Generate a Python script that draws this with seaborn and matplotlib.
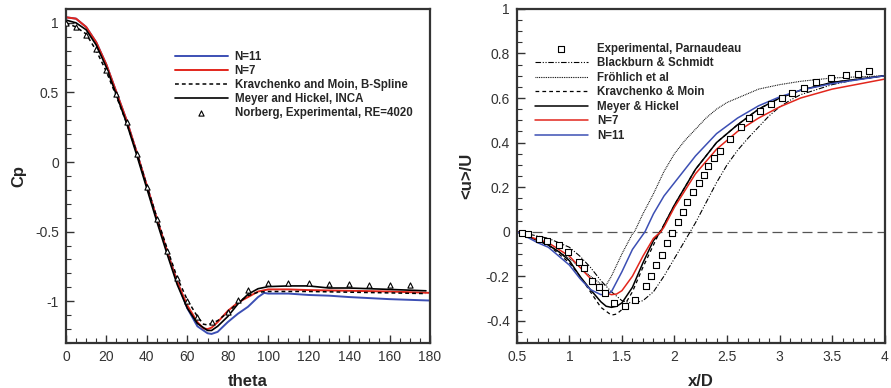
import matplotlib
matplotlib.use("Agg")
import matplotlib.pyplot as plt
import seaborn as sns
from matplotlib.ticker import MultipleLocator

# ---- left panel: Cp vs theta ----
theta_n7 = [0, 5, 10, 15, 20, 25, 30, 35, 40, 45, 50, 55, 60, 65, 68, 70, 72, 75, 80, 85, 90, 95, 100, 110, 120, 140, 160, 180]
cp_n7 = [1.04, 1.03, 0.97, 0.86, 0.70, 0.50, 0.30, 0.07, -0.17, -0.41, -0.64, -0.86, -1.03, -1.15, -1.195, -1.20, -1.19, -1.15,
         -1.07, -1.01, -0.97, -0.93, -0.915, -0.915, -0.92, -0.925, -0.93, -0.94]

theta_n11 = [0, 5, 10, 15, 20, 25, 30, 35, 40, 45, 50, 55, 60, 65, 70, 72, 75, 80, 85, 90, 95, 98, 100, 110, 120, 130, 135, 140, 160, 180]
cp_n11 = [1.04, 1.03, 0.97, 0.86, 0.70, 0.50, 0.30, 0.07, -0.17, -0.41, -0.64, -0.86, -1.05, -1.18, -1.23, -1.235, -1.22, -1.15,
          -1.09, -1.04, -0.97, -0.94, -0.945, -0.945, -0.955, -0.96, -0.965, -0.97, -0.985, -0.995]

theta_kr = [0, 5, 10, 15, 20, 25, 30, 35, 40, 45, 50, 55, 60, 65, 68, 70, 75, 80, 85, 90, 95, 100, 120, 140, 160, 178]
cp_kr = [1.0, 0.97, 0.92, 0.80, 0.65, 0.47, 0.28, 0.07, -0.17, -0.40, -0.62, -0.83, -0.99, -1.11, -1.165, -1.17, -1.14,
         -1.08, -1.01, -0.96, -0.935, -0.93, -0.93, -0.935, -0.94, -0.945]

theta_mh = [0, 5, 10, 15, 20, 25, 30, 35, 40, 45, 50, 55, 60, 65, 70, 72, 75, 80, 85, 90, 95, 100, 110, 120, 130, 140, 160, 178]
cp_mh = [1.02, 1.0, 0.95, 0.84, 0.68, 0.48, 0.28, 0.05, -0.19, -0.43, -0.66, -0.88, -1.05, -1.16, -1.21, -1.21, -1.18,
         -1.11, -1.02, -0.95, -0.91, -0.895, -0.89, -0.89, -0.905, -0.905, -0.915, -0.925]

theta_exp = [0, 5, 10, 15, 20, 25, 30, 35, 40, 45, 50, 55, 60, 65, 72, 80, 85, 90, 100, 110, 120, 130, 140, 150, 160, 170]
cp_exp = [1.0, 0.97, 0.91, 0.815, 0.66, 0.487, 0.288, 0.06, -0.18, -0.41, -0.64, -0.83, -1.0, -1.115, -1.15, -1.08, -0.99,
          -0.92, -0.868, -0.868, -0.868, -0.875, -0.875, -0.88, -0.88, -0.88]

# ---- right panel: <u>/U vs x/D ----
x_exp = [0.55, 0.61, 0.71, 0.79, 0.90, 0.99, 1.09, 1.14, 1.22, 1.28, 1.34, 1.42, 1.53, 1.62, 1.73, 1.78, 1.82, 1.88, 1.93,
         1.98, 2.03, 2.08, 2.12, 2.18, 2.23, 2.28, 2.32, 2.38, 2.43, 2.53, 2.63, 2.71, 2.81, 2.92, 3.02, 3.12, 3.23, 3.35,
         3.49, 3.63, 3.75, 3.85]
u_exp = [-0.005, -0.012, -0.032, -0.042, -0.062, -0.09, -0.135, -0.165, -0.222, -0.25, -0.275, -0.32, -0.335, -0.305,
         -0.245, -0.2, -0.15, -0.105, -0.05, -0.005, 0.044, 0.09, 0.134, 0.179, 0.218, 0.256, 0.293, 0.33, 0.364, 0.417,
         0.468, 0.511, 0.54, 0.571, 0.6, 0.623, 0.645, 0.672, 0.69, 0.705, 0.708, 0.72]

x_bs = [0.5, 0.6, 0.7, 0.8, 0.9, 1.0, 1.1, 1.2, 1.3, 1.4, 1.5, 1.6, 1.7, 1.8, 1.9, 2.0, 2.1, 2.15, 2.2, 2.3, 2.4, 2.5,
        2.6, 2.7, 2.8, 2.9, 3.0, 3.1, 3.2, 3.3, 3.5, 3.7, 4.0]
u_bs = [0.0, -0.01, -0.02, -0.03, -0.05, -0.07, -0.11, -0.16, -0.22, -0.27, -0.31, -0.322, -0.31, -0.27, -0.2, -0.12,
        -0.04, 0.0, 0.04, 0.13, 0.22, 0.30, 0.365, 0.42, 0.47, 0.52, 0.56, 0.59, 0.615, 0.63, 0.66, 0.68, 0.70]

x_fr = [0.5, 0.6, 0.7, 0.8, 0.9, 1.0, 1.1, 1.2, 1.3, 1.35, 1.4, 1.5, 1.6, 1.62, 1.7, 1.8, 1.9, 2.0, 2.1, 2.2, 2.3, 2.4,
        2.5, 2.6, 2.8, 3.0, 3.2, 3.5, 4.0]
u_fr = [0.0, -0.02, -0.04, -0.06, -0.09, -0.12, -0.16, -0.2, -0.235, -0.24, -0.2, -0.1, -0.01, 0.0, 0.08, 0.17, 0.27,
        0.35, 0.41, 0.46, 0.51, 0.55, 0.58, 0.60, 0.64, 0.66, 0.675, 0.69, 0.70]

x_kr = [0.5, 0.6, 0.7, 0.8, 0.9, 1.0, 1.1, 1.2, 1.3, 1.4, 1.45, 1.5, 1.6, 1.7, 1.8, 1.86, 1.9, 2.0, 2.2, 2.4, 2.6, 2.8,
        3.0, 3.2, 3.5, 4.0]
u_kr = [0.0, -0.02, -0.04, -0.06, -0.1, -0.14, -0.2, -0.27, -0.34, -0.375, -0.37, -0.35, -0.27, -0.16, -0.06, 0.0, 0.03,
        0.12, 0.28, 0.40, 0.48, 0.55, 0.60, 0.635, 0.67, 0.70]

x_mh = [0.5, 0.6, 0.7, 0.8, 0.9, 1.0, 1.1, 1.2, 1.3, 1.35, 1.4, 1.45, 1.5, 1.6, 1.7, 1.8, 1.87, 1.9, 2.0, 2.2, 2.4, 2.6,
        2.8, 3.0, 3.2, 3.5, 4.0]
u_mh = [0.0, -0.02, -0.04, -0.06, -0.09, -0.13, -0.2, -0.26, -0.315, -0.335, -0.34, -0.335, -0.32, -0.25, -0.14, -0.04,
        0.0, 0.03, 0.12, 0.28, 0.40, 0.48, 0.55, 0.60, 0.635, 0.67, 0.70]

x_n7 = [0.5, 0.6, 0.7, 0.8, 0.9, 1.0, 1.1, 1.2, 1.3, 1.35, 1.4, 1.45, 1.5, 1.6, 1.7, 1.8, 1.87, 1.9, 2.0, 2.2, 2.4, 2.6,
        2.8, 3.0, 3.2, 3.5, 4.0]
u_n7 = [0.0, -0.02, -0.035, -0.05, -0.08, -0.11, -0.16, -0.21, -0.26, -0.275, -0.283, -0.28, -0.265, -0.2, -0.11, -0.03,
        0.0, 0.02, 0.11, 0.26, 0.37, 0.45, 0.51, 0.56, 0.60, 0.64, 0.685]

x_n11 = [0.5, 0.6, 0.7, 0.8, 0.9, 1.0, 1.1, 1.2, 1.3, 1.35, 1.4, 1.5, 1.6, 1.72, 1.8, 1.9, 2.0, 2.2, 2.4, 2.6, 2.8, 3.0,
         3.2, 3.5, 4.0]
u_n11 = [0.0, -0.025, -0.05, -0.07, -0.11, -0.15, -0.21, -0.26, -0.283, -0.28, -0.27, -0.18, -0.08, 0.0, 0.08, 0.16, 0.22,
         0.34, 0.44, 0.51, 0.565, 0.605, 0.635, 0.665, 0.70]

BLUE = "#3c4fb4"
RED = "#e2261c"

sns.set_theme(style="ticks")
plt.rcParams["font.family"] = ["Liberation Sans", "DejaVu Sans"]

fig = plt.figure(figsize=(8.91, 3.88), dpi=100)
ax1 = fig.add_axes([0.074, 0.116, 0.4086, 0.861])
ax2 = fig.add_axes([0.580, 0.116, 0.413, 0.861])

# left
sns.lineplot(x=theta_n11, y=cp_n11, ax=ax1, color=BLUE, lw=1.4, label="N=11", sort=False)
sns.lineplot(x=theta_n7, y=cp_n7, ax=ax1, color=RED, lw=1.4, label="N=7", sort=False)
sns.lineplot(x=theta_kr, y=cp_kr, ax=ax1, color="black", lw=1.1, label="Kravchenko and Moin, B-Spline", sort=False)
ax1.lines[-1].set_dashes((2.5, 2))
sns.lineplot(x=theta_mh, y=cp_mh, ax=ax1, color="black", lw=1.2, label="Meyer and Hickel, INCA", sort=False)
sns.scatterplot(x=theta_exp, y=cp_exp, ax=ax1, marker="^", s=14, facecolor="white", edgecolor="black", linewidth=0.8,
                label="Norberg, Experimental, RE=4020", zorder=5)

ax1.set_xlim(0, 180)
ax1.set_ylim(-1.3, 1.1)
ax1.xaxis.set_major_locator(MultipleLocator(20))
ax1.xaxis.set_minor_locator(MultipleLocator(5))
ax1.yaxis.set_minor_locator(MultipleLocator(0.1))
ax1.set_yticks([-1, -0.5, 0, 0.5, 1])
ax1.set_yticklabels(["-1", "-0.5", "0", "0.5", "1"])
ax1.set_xlabel("theta", fontsize=12, fontweight="bold", labelpad=7)
ax1.set_ylabel("Cp", fontsize=12, fontweight="bold", labelpad=6)
ax1.legend(loc="upper left", bbox_to_anchor=(0.27, 0.905), frameon=False, handlelength=4.6,
           handletextpad=0.6, labelspacing=0.18, prop={"weight": "bold", "size": 8.3})

# right
ax2.axhline(0, color="#555555", lw=0.9, dashes=(8, 4))
sns.scatterplot(x=x_exp, y=u_exp, ax=ax2, marker="s", s=22, facecolor="white", edgecolor="black", linewidth=0.8,
                label="Experimental, Parnaudeau", zorder=5)
sns.lineplot(x=x_bs, y=u_bs, ax=ax2, color="black", lw=0.8, label="Blackburn & Schmidt", sort=False)
ax2.lines[-1].set_dashes((5, 1.5, 1, 1.5, 1, 1.5))
sns.lineplot(x=x_fr, y=u_fr, ax=ax2, color="black", lw=0.8, label="Fröhlich et al", sort=False)
ax2.lines[-1].set_dashes((0.8, 0.8))
sns.lineplot(x=x_kr, y=u_kr, ax=ax2, color="black", lw=0.9, label="Kravchenko & Moin", sort=False)
ax2.lines[-1].set_dashes((3, 2.5))
sns.lineplot(x=x_mh, y=u_mh, ax=ax2, color="black", lw=1.1, label="Meyer & Hickel", sort=False)
sns.lineplot(x=x_n7, y=u_n7, ax=ax2, color=RED, lw=1.1, label="N=7", sort=False)
sns.lineplot(x=x_n11, y=u_n11, ax=ax2, color=BLUE, lw=1.1, label="N=11", sort=False)

ax2.set_xlim(0.5, 4)
ax2.set_ylim(-0.5, 1)
ax2.xaxis.set_minor_locator(MultipleLocator(0.1))
ax2.yaxis.set_minor_locator(MultipleLocator(0.05))
ax2.set_xticks([0.5, 1, 1.5, 2, 2.5, 3, 3.5, 4])
ax2.set_xticklabels(["0.5", "1", "1.5", "2", "2.5", "3", "3.5", "4"])
ax2.set_yticks([-0.4, -0.2, 0, 0.2, 0.4, 0.6, 0.8, 1])
ax2.set_yticklabels(["-0.4", "-0.2", "0", "0.2", "0.4", "0.6", "0.8", "1"])
ax2.set_xlabel("x/D", fontsize=12, fontweight="bold", labelpad=7)
ax2.set_ylabel("<u>/U", fontsize=12, fontweight="bold", labelpad=8)
ax2.legend(loc="upper left", bbox_to_anchor=(0.02, 0.93), frameon=False, handlelength=4.6,
           handletextpad=0.8, labelspacing=0.22, prop={"weight": "bold", "size": 8.3})

for ax in (ax1, ax2):
    for sp in ax.spines.values():
        sp.set_visible(True)
        sp.set_linewidth(1.6)
        sp.set_color("#333333")
    ax.tick_params(which="both", direction="in", top=False, right=False, colors="#333333", labelsize=10, pad=5)
    ax.tick_params(which="major", length=6, width=1)
    ax.tick_params(which="minor", length=3.5, width=0.8)

fig.savefig("out.png", dpi=100)
